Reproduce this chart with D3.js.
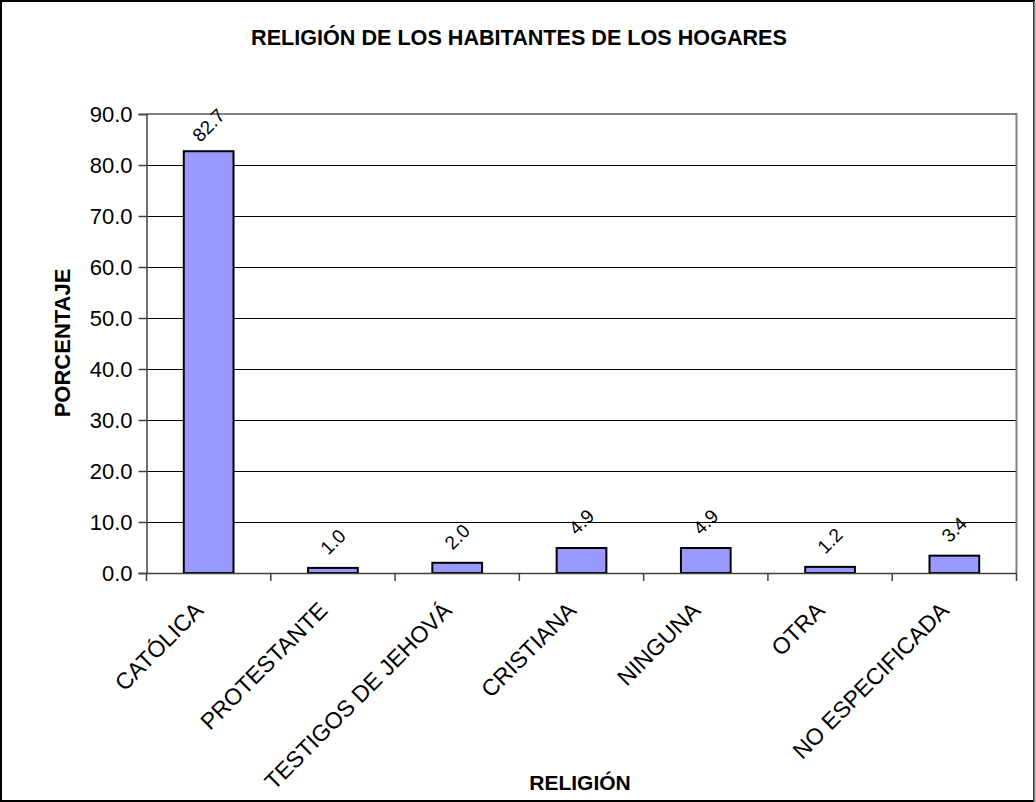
<!DOCTYPE html>
<html><head><meta charset="utf-8">
<script src="https://cdn.jsdelivr.net/npm/d3@7"></script>
<style>body{margin:0;background:#fff}svg{display:block;font-family:Arial,"Liberation Sans",sans-serif}</style>
</head><body>
<svg id="c" width="1036" height="802"></svg>
<script>
const categories = ["CATÓLICA","PROTESTANTE","TESTIGOS DE JEHOVÁ","CRISTIANA","NINGUNA","OTRA","NO ESPECIFICADA"];
const values = [82.7, 1.0, 2.0, 4.9, 4.9, 1.2, 3.4];
const yTicks = [0,10,20,30,40,50,60,70,80,90];
const title = "RELIGIÓN DE LOS HABITANTES DE LOS HOGARES";
const xTitle = "RELIGIÓN";
const yTitle = "PORCENTAJE";

const svg = d3.select("#c");
const W = 1036, H = 802;
const m = {left:146.5, right:1016.5, top:114, bottom:573};

svg.append("rect").attr("x",1).attr("y",1).attr("width",W-3).attr("height",H-2)
  .attr("fill","#fff").attr("stroke","#000").attr("stroke-width",2);
svg.append("line").attr("x1",W-1.5).attr("x2",W-1.5).attr("y1",1).attr("y2",H)
  .attr("stroke","#808080").attr("stroke-width",2);

const x = d3.scaleBand().domain(categories).range([m.left,m.right]).paddingInner(0).paddingOuter(0);
const y = d3.scaleLinear().domain([0,90]).range([m.bottom,m.top]);
const bw = x.bandwidth()*0.4;

// gridlines
svg.append("g").selectAll("line").data(yTicks.filter(t=>t>0 && t<90)).join("line")
  .attr("x1",m.left).attr("x2",m.right).attr("y1",d=>y(d)+0.5).attr("y2",d=>y(d)+0.5)
  .attr("stroke","#000").attr("stroke-width",1);
// plot border top/right
svg.append("path").attr("d",`M${m.left},${y(90)}H${m.right}V${m.bottom}`)
  .attr("fill","none").attr("stroke","#808080").attr("stroke-width",2);

// bars
svg.append("g").selectAll("rect").data(values).join("rect")
  .attr("x",(d,i)=>x(categories[i])+x.bandwidth()/2-bw/2)
  .attr("y",d=>y(d)).attr("width",bw).attr("height",d=>y(0)-y(d))
  .attr("fill","#9999FF").attr("stroke","#000").attr("stroke-width",2);

// y axis
const ya = d3.axisLeft(y).tickValues(yTicks).tickFormat(d3.format(".1f")).tickSize(8).tickPadding(6);
const gy = svg.append("g").attr("transform",`translate(${m.left},0)`).call(ya);
gy.select(".domain").attr("stroke","#404040").attr("stroke-width",1.5);
gy.selectAll(".tick line").attr("stroke","#404040").attr("stroke-width",1.5);
gy.selectAll(".tick text").attr("font-size",22).attr("fill","#000").attr("font-family","Arial, 'Liberation Sans', sans-serif");

// x axis
const xa = d3.axisBottom(x).tickSize(0).tickFormat("");
const gx = svg.append("g").attr("transform",`translate(0,${m.bottom})`).call(xa);
gx.select(".domain").attr("stroke","#404040").attr("stroke-width",1.5);
const sep = d3.range(categories.length+1).map(i=>m.left + i*x.step());
gx.selectAll(".sep").data(sep).join("line").attr("class","sep")
  .attr("x1",d=>d).attr("x2",d=>d).attr("y1",0).attr("y2",8)
  .attr("stroke","#404040").attr("stroke-width",1.5);

// x labels
svg.append("g").selectAll("text").data(categories).join("text")
  .attr("transform",d=>`translate(${x(d)+x.bandwidth()/2-4},${m.bottom+39}) rotate(-45)`)
  .attr("text-anchor","end").attr("font-size",23).attr("fill","#000").text(d=>d);

// value labels
svg.append("g").selectAll("text").data(values).join("text")
  .attr("transform",(d,i)=>`translate(${x(categories[i])+x.bandwidth()/2},${y(d)-26}) rotate(-45)`)
  .attr("text-anchor","middle").attr("dominant-baseline","central").attr("font-size",19).attr("fill","#000")
  .text(d=>d3.format(".1f")(d));

// titles
svg.append("text").attr("x",519).attr("y",45).attr("text-anchor","middle")
  .attr("font-size",21.6).attr("font-weight","bold").text(title);
svg.append("text").attr("x",580).attr("y",790).attr("text-anchor","middle")
  .attr("font-size",21).attr("font-weight","bold").text(xTitle);
svg.append("text").attr("transform",`translate(70,343) rotate(-90)`).attr("text-anchor","middle")
  .attr("font-size",22).attr("font-weight","bold").text(yTitle);
</script>
</body></html>
